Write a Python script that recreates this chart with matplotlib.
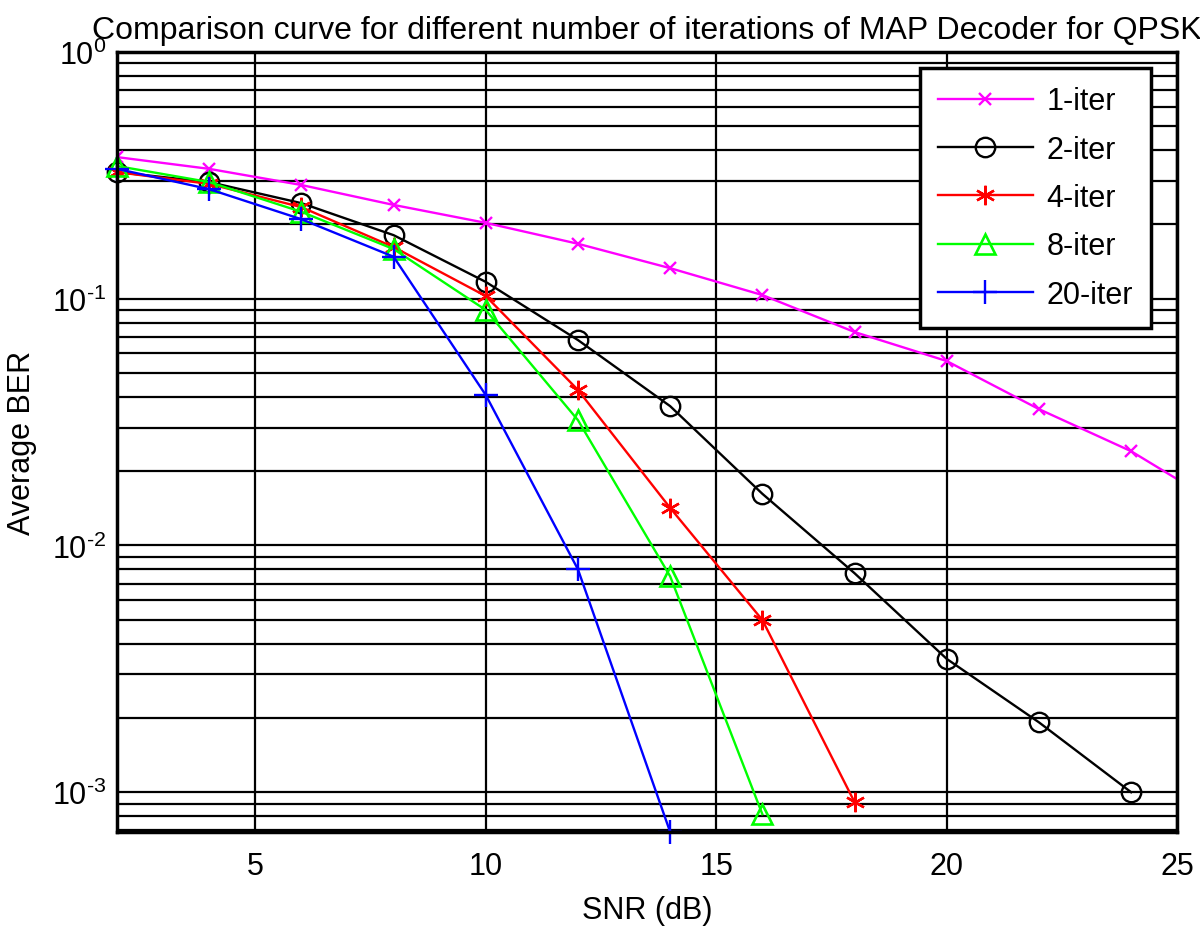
import matplotlib
matplotlib.use('Agg')
import matplotlib.pyplot as plt
from matplotlib.ticker import LogLocator, NullFormatter, FuncFormatter
import numpy as np

plt.rcParams['font.family'] = ['Liberation Sans', 'DejaVu Sans']
plt.rcParams['mathtext.fontset'] = 'custom'
plt.rcParams['mathtext.rm'] = 'Liberation Sans'
plt.rcParams['mathtext.it'] = 'Liberation Sans'

# 数据 (SNR in dB, average BER)
snr = [2, 4, 6, 8, 10, 12, 14, 16, 18, 20, 22, 24, 26]
ber_1 = [0.375, 0.336, 0.289, 0.240, 0.203, 0.167, 0.133, 0.1035, 0.0733, 0.0559, 0.0357, 0.0241, 0.0143]
ber_2 = [0.326, 0.297, 0.244, 0.181, 0.117, 0.068, 0.0367, 0.0162, 0.00772, 0.00347, 0.00192, 0.001]
ber_4 = [0.326, 0.292, 0.235, 0.162, 0.1025, 0.0427, 0.0142, 0.00499, 0.000912]
ber_8 = [0.345, 0.297, 0.225, 0.159, 0.090, 0.0322, 0.0075, 0.000815]
ber_20 = [0.336, 0.278, 0.210, 0.148, 0.0407, 0.0080, 0.00069]

fig = plt.figure(figsize=(12, 9.28), dpi=100)
ax = fig.add_axes([0.0975, 0.1024, 0.8835, 0.8405])

lw = 1.7
ax.plot(snr[:len(ber_1)], ber_1, color='#ff00ff', marker='x', markersize=9, markeredgewidth=1.7, lw=lw, label='1-iter', clip_on=True)
ax.plot(snr[:len(ber_2)], ber_2, color='black', marker='o', markersize=14, markerfacecolor='none', markeredgewidth=1.7, lw=lw, label='2-iter', clip_on=False)
ax.plot(snr[:len(ber_4)], ber_4, color='red', marker=(6, 2, 0), markersize=14, markeredgewidth=1.7, lw=lw, label='4-iter', clip_on=False)
ax.plot(snr[:len(ber_8)], ber_8, color='#00ff00', marker='^', markersize=15, markerfacecolor='none', markeredgewidth=1.9, lw=lw, label='8-iter', clip_on=False)
ax.plot(snr[:len(ber_20)], ber_20, color='blue', marker='+', markersize=17, markeredgewidth=1.7, lw=lw, label='20-iter', clip_on=False)

ax.set_yscale('log')
ax.set_xlim(2, 25)
ax.set_ylim(6.9e-4, 1)
ax.set_xticks([5, 10, 15, 20, 25])
ax.yaxis.set_major_locator(LogLocator(base=10, numticks=10))
ax.yaxis.set_minor_locator(LogLocator(base=10, subs=range(2, 10), numticks=20))
ax.yaxis.set_minor_formatter(NullFormatter())


# MATLAB 风格的刻度标签: 10 上标用普通连字符
def pow10(v, pos):
    e = int(round(np.log10(v)))
    return r'$\mathdefault{10^{\text{%d}}}$' % e


ax.yaxis.set_major_formatter(FuncFormatter(pow10))

ax.grid(True, which='major', axis='both', color='black', lw=1.6)
ax.grid(True, which='minor', axis='y', color='black', lw=1.6)
ax.set_axisbelow(True)

ax.tick_params(axis='both', which='both', direction='in', labelsize=22, length=0)
ax.tick_params(axis='x', pad=14)
ax.tick_params(axis='y', pad=8)
for s in ax.spines.values():
    s.set_linewidth(2.5)

ax.set_xlabel('SNR (dB)', fontsize=22, labelpad=10)
ax.set_ylabel('Average BER', fontsize=22)
ax.yaxis.set_label_coords(-0.0755, 0.5)
ax.set_title('Comparison curve for different number of iterations of MAP Decoder for QPSK', fontsize=23, pad=10)

leg = ax.legend(loc='upper right', bbox_to_anchor=(0.9755, 0.9795), borderaxespad=0, fontsize=22, numpoints=1,
                handlelength=3.1, labelspacing=0.6, fancybox=False, framealpha=1,
                borderpad=0.6, handletextpad=0.45)
leg.get_frame().set_edgecolor('black')
leg.get_frame().set_linewidth(2.5)

plt.savefig('out.png', dpi=100)
